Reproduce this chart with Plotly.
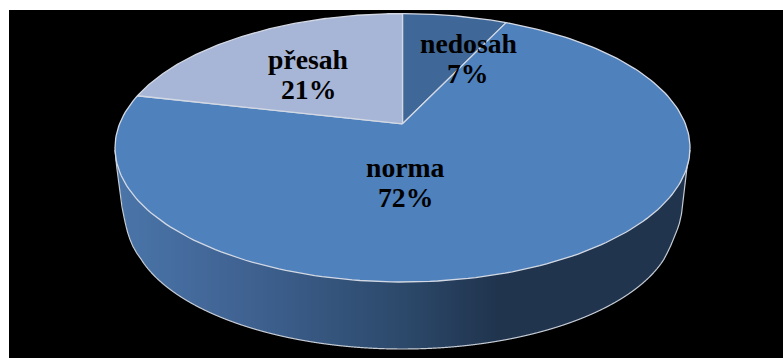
import numpy as np
import plotly.graph_objects as go

categories = ["nedosah", "norma", "přesah"]
values = [7.0, 71.6, 21.4]
slice_colors = ["#3f6797", "#4f81bd", "#a7b5d6"]
percent_labels = ["7%", "72%", "21%"]

# pie geometry in page pixels
CX, CY, RX, RY = 402.5, 147.8, 287.5, 134.2
BCX, BCY, BRX, BRY = 402.5, 225.0, 272.0, 124.0
D = 0.179  # perspective shift of the pie's apex
EDGE = "#d3d9e4"
LEFT_X = [115, 116.7, 122, 124, 125.5, 127.5, 130, 133, 137, 141.7]
LEFT_Y = [150, 167, 207, 217, 224, 232, 239.5, 246.5, 253.5, 260]
RIGHT_X = [663.5, 667, 671, 674.5, 677.5, 679.5, 681.5, 686.7, 690]
RIGHT_Y = [260, 253.5, 245, 236.5, 229, 223, 214, 170, 150]

fig = go.Figure()


def project(theta):
    x, y = np.sin(theta), np.cos(theta)
    yy = (y + D) / (1 + D * y)
    xx = x * np.sqrt(1 - D * D) / (1 + D * y)
    return CX + RX * xx, CY - RY * yy


def low_edge(x):
    x = np.asarray(x, dtype=float)
    t = np.clip((x - BCX) / BRX, -1, 1)
    y = BCY + BRY * np.sqrt(1 - t * t)
    y = np.where(x < LEFT_X[-1], np.interp(x, LEFT_X, LEFT_Y), y)
    y = np.where(x > RIGHT_X[0], np.interp(x, RIGHT_X, RIGHT_Y), y)
    return y


# side wall gradient
stops_x = [115, 250, 400, 500, 690]
stops_c = np.array([[75, 118, 170], [63, 98, 145], [45, 74, 108], [32, 52, 78], [32, 52, 78]])
xs = np.arange(115, 690, 4.0)
for x0 in xs:
    x1 = min(x0 + 5, 690)
    seg = np.linspace(x0, x1, 11)
    col = [int(np.interp(x0 + 2, stops_x, stops_c[:, i])) for i in range(3)]
    px = np.r_[seg, seg[::-1]]
    py = np.r_[low_edge(seg), np.full(11, 150.0)]
    fig.add_trace(go.Scatter(x=px, y=py, mode="lines", fill="toself", fillcolor=f"rgb({col[0]},{col[1]},{col[2]})",
                             line=dict(width=0), hoverinfo="skip"))

# outline of the wall
ox = np.linspace(115, 690, 1200)
fig.add_trace(go.Scatter(x=ox, y=low_edge(ox), mode="lines", line=dict(color="#c4cad4", width=1.2, shape="spline", smoothing=0.6),
                         hoverinfo="skip"))

# top slices
total = sum(values)
start = 0.0
for cat, val, col in zip(categories, values, slice_colors):
    end = start + val / total * 2 * np.pi
    th = np.linspace(start, end, 200)
    apex_x, apex_y = CX, CY - RY * D
    px, py = project(th)
    fig.add_trace(go.Scatter(x=np.r_[apex_x, px, apex_x], y=np.r_[apex_y, py, apex_y], mode="lines", fill="toself",
                             fillcolor=col, line=dict(color=EDGE, width=1.3), hoverinfo="skip", name=cat))
    start = end

# labels
label_pos = {"nedosah": (468, 43), "norma": (405, 167), "přesah": (308, 59)}
for cat, pct in zip(categories, percent_labels):
    lx, ly = label_pos[cat]
    for text, yy in ((cat, ly), (pct, ly + 30)):
        fig.add_annotation(x=lx, y=yy, text=f"<b>{text}</b>", showarrow=False, xanchor="center", yanchor="middle",
                           font=dict(family="Liberation Serif", size=27.7, color="#000000"))

fig.update_layout(
    width=783, height=358, showlegend=False, paper_bgcolor="white", plot_bgcolor="black",
    margin=dict(l=9, r=0, t=10, b=0),
    xaxis=dict(range=[9, 783], visible=False, fixedrange=True),
    yaxis=dict(range=[358, 10], visible=False, fixedrange=True),
)
fig.write_html("out.html", config={"displayModeBar": False},
               post_script="document.body.style.margin='0';document.documentElement.style.overflow='hidden';")
